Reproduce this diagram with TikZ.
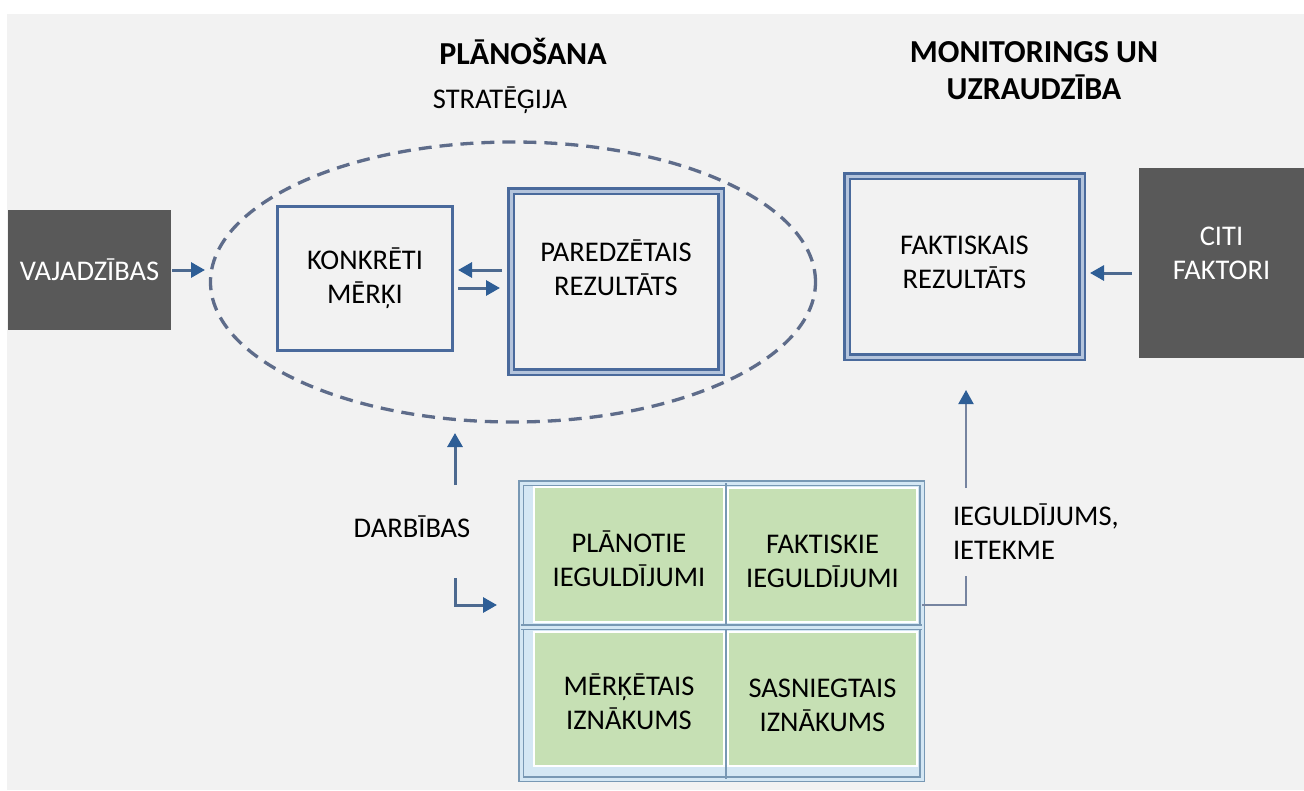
\documentclass[tikz,border=0pt]{standalone}
\usepackage{fontspec}
\setmainfont{Carlito}
\usetikzlibrary{arrows.meta,shapes.geometric,calc}
\definecolor{bg}{HTML}{F2F2F2}
\definecolor{darkfill}{HTML}{595959}
\definecolor{boxblue}{HTML}{4A6A9C}
\definecolor{dblgap}{HTML}{B4C4DC}
\definecolor{shaftblue}{HTML}{4D6A90}
\definecolor{headblue}{HTML}{2E5E96}
\definecolor{dashgray}{HTML}{5E6C8A}
\definecolor{thingray}{HTML}{7684A0}
\definecolor{cellgreen}{HTML}{C6E0B4}
\definecolor{framesteel}{HTML}{7898B4}
\definecolor{framelight}{HTML}{D4E7F4}
\newcommand{\liftlines}[2]{\raisebox{#1}[\height][\depth]{\begin{tabular}{@{}c@{}}#2\end{tabular}}}
\begin{document}
\begin{tikzpicture}[x=1pt,y=-1pt,
  every node/.style={font=\fontsize{28.5}{34}\selectfont, align=center, inner sep=0pt, outer sep=0pt},
  titletext/.style={font=\fontsize{32}{37}\selectfont\bfseries},
  darkbox/.style={rectangle, fill=darkfill, text=white},
  singlebox/.style={rectangle, draw=boxblue, line width=3pt},
  doublebox/.style={rectangle, draw=boxblue, double=dblgap, double distance=3pt, line width=2.5pt},
  arrowline/.style={draw=shaftblue, line width=3pt, -{Triangle[width=15pt,length=14pt,color=headblue]}},
  thinconn/.style={draw=thingray, line width=2pt},
  thinarrow/.style={draw=thingray, line width=2pt, -{Triangle[width=15pt,length=14pt,color=headblue]}},
  cellbox/.style={rectangle, fill=cellgreen, draw=white, line width=1.5pt},
  sepline/.style={draw=framesteel, double=framelight, double distance=3pt, line width=1.2pt}
]
\useasboundingbox (0,0) rectangle (1304,790);
\fill[white] (0,0) rectangle (1304,790);
\fill[bg] (7,14) rectangle (1304,790);

% titles
\node[titletext] (plan) at (523,51) {PLĀNOŠANA};
\node (stratlabel) at (500,100) {STRATĒĢIJA};
\node[titletext] (mon) at (1034,71) {MONITORINGS UN\\UZRAUDZĪBA};

% strategy ellipse
\node[ellipse, draw=dashgray, line width=3.3pt, dash pattern=on 13pt off 8pt,
      minimum width=605pt, minimum height=280pt] (strat) at (513,282) {};

% boxes
\node[darkbox, minimum width=163pt, minimum height=120pt] (vaj) at (89.5,270) {VAJADZĪBAS};
\node[singlebox, minimum width=175pt, minimum height=144pt] (konk) at (365,278.5) {KONKRĒTI\\MĒRĶI};
\node[doublebox, minimum width=210pt, minimum height=181pt] (pared) at (616,281.5) {\liftlines{10pt}{PAREDZĒTAIS\\REZULTĀTS}};
\node[doublebox, minimum width=235pt, minimum height=181pt] (fakt) at (964.5,266.5) {\liftlines{2pt}{FAKTISKAIS\\REZULTĀTS}};
\node[darkbox, minimum width=165pt, minimum height=190pt] (citi) at (1221.5,263) {\liftlines{7pt}{CITI\\FAKTORI}};

% labels
\node (darb) at (412,527) {DARBĪBAS};
\node[anchor=west, align=left, inner ysep=16pt] (ieg) at (953,532) {IEGULDĪJUMS,\\IETEKME};

% grid frame
\node[draw=framesteel, double=framelight, double distance=3pt, line width=1.5pt,
      fill=framelight, minimum width=401pt, minimum height=296pt] (grid) at (721.5,631) {};
\coordinate (hsep) at (721.5,627);
\coordinate (vsep) at (726,630);
\draw[draw=framesteel, line width=2.5pt] (vsep |- grid.north) -- (vsep |- grid.south);
\draw[sepline] (hsep -| grid.west) -- (hsep -| grid.east);

% cells
\node[cellbox, minimum width=190pt, minimum height=135pt] (tl) at (629,554.5) {\liftlines{-8pt}{PLĀNOTIE\\IEGULDĪJUMI}};
\node[cellbox, minimum width=189pt, minimum height=134pt] (tr) at (822.5,555) {\liftlines{-9pt}{FAKTISKIE\\IEGULDĪJUMI}};
\node[cellbox, minimum width=190pt, minimum height=134pt] (bl) at (629,699) {\liftlines{-7pt}{MĒRĶĒTAIS\\IZNĀKUMS}};
\node[cellbox, minimum width=189pt, minimum height=134pt] (br) at (822.5,699) {\liftlines{-9pt}{SASNIEGTAIS\\IZNĀKUMS}};

% connectors
\draw[arrowline, shorten <=1pt, shorten >=5.5pt] (vaj.east) -- (vaj.east -| strat.west);

\coordinate (la) at ($(konk.east)+(0,-8.5)$);
\coordinate (ra) at ($(konk.east)+(0,9.5)$);
\draw[arrowline, shorten <=9pt, shorten >=5.5pt] (la -| pared.west) -- (la);
\draw[arrowline, shorten <=5.5pt, shorten >=11pt] (ra) -- (ra -| pared.west);

\coordinate (ca) at ($(citi.west)+(0,10)$);
\draw[arrowline, shorten <=7pt, shorten >=8pt] (ca) -- (ca -| fakt.east);

\coordinate (dt) at (455,485);
\coordinate (db) at (455,578);
\coordinate (dc) at (455,605);
\draw[arrowline, shorten >=11pt] (dt) -- (dt |- strat.south);
\draw[arrowline, shorten >=24pt] (db) -- (dc) -- (dc -| grid.west);

\coordinate (turn) at (966,605);
\draw[thinconn] (turn -| grid.east) -- (turn) -- (turn |- ieg.south);
\draw[thinarrow, shorten >=33pt] (turn |- ieg.north) -- (turn |- fakt.south);
\end{tikzpicture}
\end{document}
